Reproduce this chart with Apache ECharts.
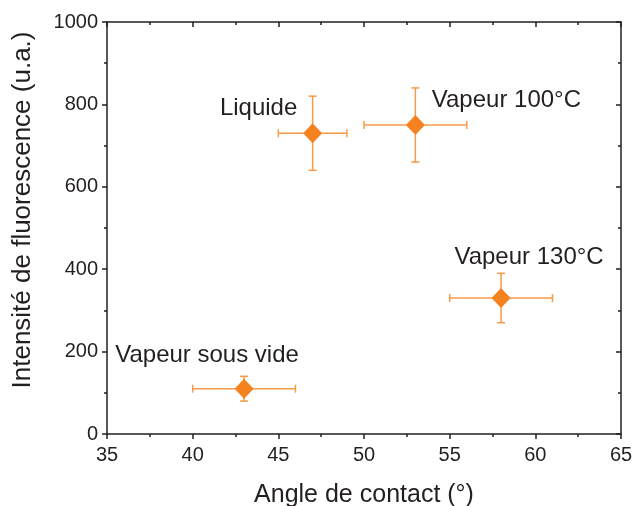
<!DOCTYPE html>
<html>
<head>
<meta charset="utf-8">
<script src="https://cdn.jsdelivr.net/npm/echarts@6/dist/echarts.min.js"></script>
<style>
  html, body { margin: 0; padding: 0; background: #fff; }
  #main { width: 633px; height: 506px; }
</style>
</head>
<body>
<div id="main"></div>
<script>
// data
var names = ['Liquide', 'Vapeur 100°C', 'Vapeur 130°C', 'Vapeur sous vide'];
var angle = [47, 53, 58, 43];
var angleErr = [2, 3, 3, 3];
var intensity = [730, 750, 330, 110];
var intensityErr = [90, 90, 60, 30];

var xTicks = [35, 40, 45, 50, 55, 60, 65];
var yTicks = [0, 200, 400, 600, 800, 1000];

// where each label sits relative to its point (px)
var labelOffsets = [[-54, -25], [91, -25], [28, -41], [-37, -33]];

var chartDom = document.getElementById('main');
var myChart = echarts.init(chartDom);
var option;

var axisColor = '#231f20';
var markColor = '#f5821f';
var barColor = '#f79a48';
var font = 'Liberation Sans, Arial, sans-serif';

var points = angle.map(function (x, i) {
  return {
    name: names[i],
    value: [x, intensity[i]],
    label: { offset: labelOffsets[i] }
  };
});
var bars = angle.map(function (x, i) {
  return [x, intensity[i], angleErr[i], intensityErr[i]];
});

function baseAxis(extra) {
  return Object.assign({
    type: 'value',
    splitLine: { show: false },
    axisLine: { show: true, onZero: false, lineStyle: { color: axisColor, width: 1.5 } },
    axisTick: { show: true, inside: false, length: 5, lineStyle: { color: axisColor, width: 1.5 } },
    minorTick: { show: true, splitNumber: 2, length: 3, lineStyle: { color: axisColor, width: 1.5 } },
    minorSplitLine: { show: false }
  }, extra);
}

var plain = function (v) { return String(v); };

var xMain = baseAxis({
  min: xTicks[0], max: xTicks[xTicks.length - 1], interval: xTicks[1] - xTicks[0],
  name: 'Angle de contact (°)', nameLocation: 'middle', nameGap: 49,
  nameTextStyle: { fontSize: 25, color: axisColor, fontFamily: font },
  axisLabel: { fontSize: 20, color: axisColor, fontFamily: font, margin: 11, formatter: plain }
});
var xTop = baseAxis({
  position: 'top',
  min: xTicks[0], max: xTicks[xTicks.length - 1], interval: xTicks[1] - xTicks[0],
  axisLabel: { show: false }
});
xTop.axisTick = Object.assign({}, xTop.axisTick, { inside: true });
xTop.minorTick = Object.assign({}, xTop.minorTick, { inside: true });

var yMain = baseAxis({
  min: yTicks[0], max: yTicks[yTicks.length - 1], interval: yTicks[1] - yTicks[0],
  name: 'Intensité de fluorescence (u.a.)', nameLocation: 'middle', nameGap: 71,
  nameTextStyle: { fontSize: 26, color: axisColor, fontFamily: font, padding: [0, 0, 0, 36] },
  axisLabel: { fontSize: 20, color: axisColor, fontFamily: font, margin: 9, formatter: plain }
});
var yRight = baseAxis({
  position: 'right',
  min: yTicks[0], max: yTicks[yTicks.length - 1], interval: yTicks[1] - yTicks[0],
  axisLabel: { show: false }
});
yRight.axisTick = Object.assign({}, yRight.axisTick, { inside: true });
yRight.minorTick = Object.assign({}, yRight.minorTick, { inside: true });

option = {
  backgroundColor: '#fff',
  animation: false,
  grid: { left: 107, right: 12, top: 22, bottom: 72, outerBoundsMode: 'none', containLabel: false },
  xAxis: [xMain, xTop],
  yAxis: [yMain, yRight],
  series: [
    {
      type: 'custom',
      name: 'err',
      data: bars,
      z: 2,
      renderItem: function (params, api) {
        var x = api.value(0), y = api.value(1);
        var dx = api.value(2), dy = api.value(3);
        var l = api.coord([x - dx, y]);
        var r = api.coord([x + dx, y]);
        var t = api.coord([x, y + dy]);
        var b = api.coord([x, y - dy]);
        var c = 4;
        var st = { stroke: barColor, lineWidth: 1.5 };
        return {
          type: 'group',
          children: [
            { type: 'line', shape: { x1: l[0], y1: l[1], x2: r[0], y2: r[1] }, style: st },
            { type: 'line', shape: { x1: t[0], y1: t[1], x2: b[0], y2: b[1] }, style: st },
            { type: 'line', shape: { x1: l[0], y1: l[1] - c, x2: l[0], y2: l[1] + c }, style: st },
            { type: 'line', shape: { x1: r[0], y1: r[1] - c, x2: r[0], y2: r[1] + c }, style: st },
            { type: 'line', shape: { x1: t[0] - c, y1: t[1], x2: t[0] + c, y2: t[1] }, style: st },
            { type: 'line', shape: { x1: b[0] - c, y1: b[1], x2: b[0] + c, y2: b[1] }, style: st }
          ]
        };
      }
    },
    {
      type: 'scatter',
      name: 'points',
      data: points,
      z: 3,
      symbol: 'diamond',
      symbolSize: [19, 20],
      itemStyle: { color: markColor, opacity: 1 },
      label: {
        show: true,
        position: 'inside',
        formatter: '{b}',
        fontSize: 24,
        color: axisColor,
        fontFamily: font
      },
      emphasis: { disabled: true }
    }
  ]
};

option && myChart.setOption(option);
</script>
</body>
</html>
